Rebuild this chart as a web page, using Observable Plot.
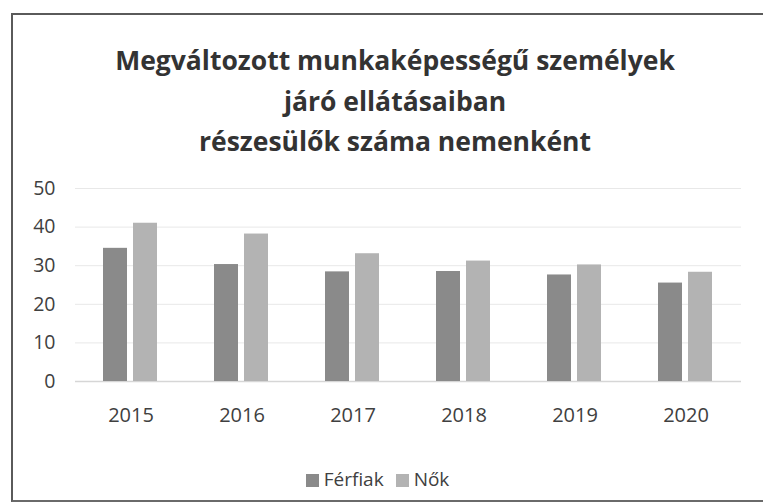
<!DOCTYPE html>
<html>
<head>
<meta charset="utf-8">
<script src="https://cdn.jsdelivr.net/npm/d3@7"></script>
<script src="https://cdn.jsdelivr.net/npm/@observablehq/plot@0.6"></script>
<style>
  html, body { margin: 0; padding: 0; background: #fff; }
  body { width: 763px; height: 503px; position: relative; overflow: hidden; font-family: "Open Sans", sans-serif; }
  #frame { position: absolute; left: 11px; top: 13px; width: 800px; height: 485px;
           border-left: 2px solid #5a5a5a; border-top: 2px solid #5a5a5a; border-bottom: 2px solid #6a6a6a; }
  #title { position: absolute; left: 45px; width: 700px; top: 40px; text-align: center;
           font-size: 26.5px; font-weight: 700; line-height: 40.5px; color: #333; }
  #chart { position: absolute; left: 0; top: 170px; }
  #legend { position: absolute; left: 0; width: 755px; top: 466px; text-align: center; font-size: 19px; color: #404040; }
  #legend span.sw { display: inline-block; width: 13px; height: 13px; margin-right: 5px; vertical-align: -1px; }
  #legend span.item { margin: 0 6px; }
</style>
</head>
<body>
<div id="frame"></div>
<div id="title">Megváltozott munkaképességű személyek<br>járó ellátásaiban<br>részesülők száma nemenként</div>
<div id="chart"></div>
<div id="legend"></div>
<script>
const years = ["2015", "2016", "2017", "2018", "2019", "2020"];
const series = ["Férfiak", "Nők"];
const men = [34.5, 30.3, 28.4, 28.5, 27.6, 25.5];
const women = [41.0, 38.2, 33.1, 31.2, 30.2, 28.3];
const yTicks = [0, 10, 20, 30, 40, 50];
const colors = ["#8a8a8a", "#b3b3b3"];

const data = [];
years.forEach((yr, i) => {
  data.push({year: yr, sex: series[0], value: men[i]});
  data.push({year: yr, sex: series[1], value: women[i]});
});

const chart = Plot.plot({
  width: 763,
  height: 260,
  marginTop: 18,
  marginBottom: 49,
  marginLeft: 73,
  marginRight: 20,
  style: {fontFamily: "Open Sans, sans-serif", color: "#404040", background: "transparent"},
  fx: {domain: years, padding: 0, label: null},
  x: {domain: series, axis: null, paddingInner: 0.194, paddingOuter: 0.9},
  y: {domain: [0, 50], ticks: yTicks, label: null},
  color: {domain: series, range: colors},
  marks: [
    Plot.ruleY(yTicks.filter(t => t > 0), {stroke: "#e8e8e8", strokeWidth: 1}),
    Plot.ruleY([0], {stroke: "#d6d6d6", strokeWidth: 1.5}),
    Plot.barY(data, {fx: "year", x: "sex", y: "value", fill: "sex"}),
    Plot.axisY({ticks: yTicks, tickSize: 0, tickPadding: 20, fontSize: 19.5, label: null}),
    Plot.axisFx({anchor: "bottom", tickSize: 0, tickPadding: 26, fontSize: 20, label: null})
  ]
});
document.getElementById("chart").appendChild(chart);

const legend = document.getElementById("legend");
series.forEach((s, i) => {
  const item = document.createElement("span");
  item.className = "item";
  const sw = document.createElement("span");
  sw.className = "sw";
  sw.style.background = colors[i];
  item.appendChild(sw);
  item.appendChild(document.createTextNode(s));
  legend.appendChild(item);
});
</script>
</body>
</html>
